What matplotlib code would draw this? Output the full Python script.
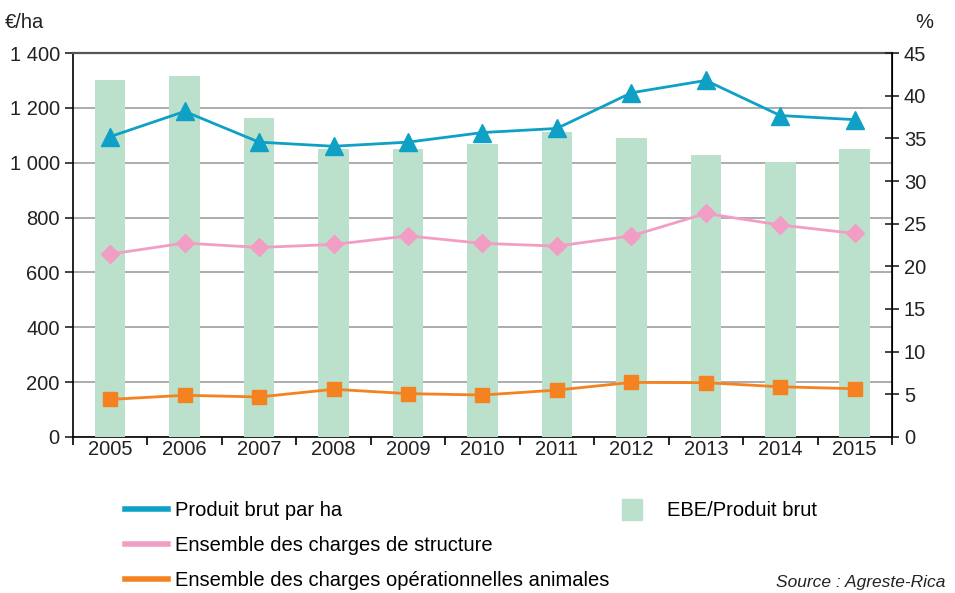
import matplotlib
matplotlib.use("Agg")
from matplotlib import pyplot as plt
from matplotlib.lines import Line2D
from matplotlib.patches import Patch

plt.rcParams['font.family'] = ['Liberation Sans', 'DejaVu Sans']

annees = ["2005", "2006", "2007", "2008", "2009", "2010",
          "2011", "2012", "2013", "2014", "2015"]
produit_brut = [1095, 1187, 1075, 1060, 1075, 1110, 1125, 1255, 1300, 1172, 1157]
charges_structure = [667, 707, 691, 702, 733, 706, 696, 733, 815, 773, 742]
charges_animales = [137, 152, 146, 174, 158, 153, 171, 199, 198, 183, 176]
ebe_produit = [41.8, 42.3, 37.4, 33.7, 33.7, 34.3, 35.8, 35.0, 33.0, 32.2, 33.8]

bleu = '#0fa0c6'
rose = '#f29ec4'
orange = '#f58220'
vert = '#bbe0cc'
x = list(range(len(annees)))

fig = plt.figure(figsize=(9.55, 5.93), dpi=100)
ax = fig.add_axes([0.0764, 0.2631, 0.8576, 0.6475])
ax_pct = ax.twinx()
ax_lig = ax.twinx()
ax.set_zorder(0)
ax_pct.set_zorder(1)
ax_lig.set_zorder(2)
ax_pct.patch.set_visible(False)
ax_lig.patch.set_visible(False)

# axe gauche : grille en €/ha
ax.set_xlim(-0.5, len(annees) - 0.5)
ax.set_ylim(0, 1400)
ax.set_yticks(range(0, 1401, 200))
ax.set_yticklabels(["0", "200", "400", "600", "800", "1 000", "1 200", "1 400"])
ax.yaxis.grid(True, color='#a6a6a6', linewidth=1.3)
ax.tick_params(axis='y', labelsize=14.5, length=6, width=1.2, colors='#222222')
ax.set_xticks([i - 0.5 for i in range(len(annees) + 1)])
ax.set_xticks(x, minor=True)
ax.set_xticklabels([])
ax.set_xticklabels(annees, minor=True)
ax.tick_params(axis='x', which='major', length=6, width=1.2, direction='out')
ax.tick_params(axis='x', which='minor', length=0, labelsize=14.5, pad=2,
               colors='#222222')
ax.spines['top'].set_color('#555555')
ax.spines['top'].set_linewidth(1.6)
for s in ['left', 'bottom']:
    ax.spines[s].set_linewidth(1.2)

# barres EBE/Produit brut sur l'axe droit
ax_pct.bar(x, ebe_produit, width=0.41, color=vert)
ax_pct.set_ylim(0, 45)
ax_pct.set_yticks(range(0, 46, 5))
ax_pct.tick_params(axis='y', labelsize=14.5, direction='inout', length=10,
                   width=1.2, colors='#222222')
ax_pct.spines['right'].set_linewidth(1.2)
for s in ['top', 'left', 'bottom']:
    ax_pct.spines[s].set_visible(False)

# courbes en €/ha
ax_lig.set_ylim(0, 1400)
ax_lig.plot(x, produit_brut, color=bleu, linewidth=2, marker='^', markersize=13)
ax_lig.plot(x, charges_structure, color=rose, linewidth=2, marker='D', markersize=9.5)
ax_lig.plot(x, charges_animales, color=orange, linewidth=2, marker='s', markersize=10.5)
ax_lig.axis('off')

fig.text(0.005, 0.962, "€/ha", fontsize=14.5, va='center', color='#222222')
fig.text(0.958, 0.962, "%", fontsize=14.5, va='center', color='#222222')

poignees = [Line2D([], [], color=bleu, linewidth=4),
            Line2D([], [], color=rose, linewidth=4),
            Line2D([], [], color=orange, linewidth=4)]
noms = ["Produit brut par ha", "Ensemble des charges de structure",
        "Ensemble des charges opérationnelles animales"]
fig.legend(poignees, noms, loc='upper left', bbox_to_anchor=(0.131, 0.155),
           frameon=False, fontsize=14.5, handlelength=2.15, handletextpad=0.35,
           labelspacing=0.8, borderaxespad=0, borderpad=0)
fig.legend([Patch(color=vert)], ["EBE/Produit brut"], loc='upper left',
           bbox_to_anchor=(0.651, 0.158), frameon=False, fontsize=14.5,
           handlelength=1.0, handleheight=1.2, handletextpad=1.25,
           borderaxespad=0, borderpad=0)
fig.text(0.99, 0.018, "Source : Agreste-Rica", fontsize=12.5, style='italic',
         ha='right', va='center', color='#222222')

plt.savefig("out.png", dpi=100)
